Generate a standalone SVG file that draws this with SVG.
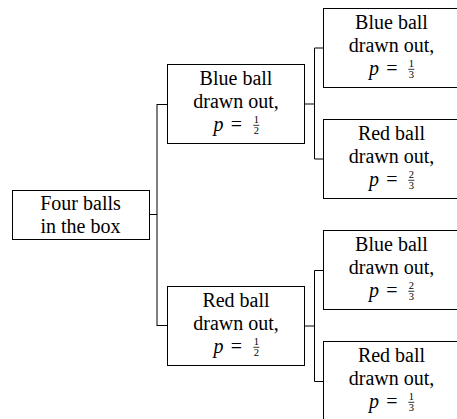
<svg xmlns="http://www.w3.org/2000/svg" width="457" height="419" viewBox="0 0 457 419">
<style>
  .box { fill: #fff; stroke: #000; stroke-width: 1; }
  .t { font-family: "Liberation Serif", "Times New Roman", serif; font-size: 20px; fill: #000; text-anchor: middle; }
  .it { font-style: italic; }
  .fr { font-family: "Liberation Serif", "Times New Roman", serif; font-size: 10.5px; fill: #000; text-anchor: middle; }
  .bar { stroke: #000; stroke-width: 0.8; }
  .edge { fill: none; stroke: #000; stroke-width: 1; }
</style>
<rect width="457" height="419" fill="#fff"/>
<g id="connectors">
  <path class="edge" d="M149.5 214.5 H157 M157 104 V326"/>
  <path class="edge" d="M157 104.5 H167.5 M157 325.5 H167.5"/>
  <path class="edge" d="M304.5 104 H314.5 M314.5 48 V159 M314.5 48 H323.5 M314.5 159 H323.5"/>
  <path class="edge" d="M304.5 326 H314.5 M314.5 270.5 V381.5 M314.5 270.5 H323.5 M314.5 381.5 H323.5"/>
</g>
<g id="root">
  <rect class="box" x="12.5" y="190.5" width="137" height="49"/>
  <text class="t" x="80.5" y="209.5">Four balls</text>
  <text class="t" x="80.5" y="232.5">in the box</text>
</g>
<g id="blue1">
  <rect class="box" x="167.5" y="64.5" width="137" height="79"/>
  <text class="t" x="236" y="85">Blue ball</text>
  <text class="t" x="236" y="108">drawn out,</text>
  <text class="t it" x="218.5" y="131">p</text>
  <text class="t" x="236.5" y="131">=</text>
  <text class="fr" x="256.3" y="123.3">1</text>
  <line class="bar" x1="253.3" y1="125.3" x2="259.3" y2="125.3"/>
  <text class="fr" x="256.3" y="134">2</text>
</g>
<g id="red1">
  <rect class="box" x="167.5" y="286.5" width="137" height="79"/>
  <text class="t" x="236" y="307">Red ball</text>
  <text class="t" x="236" y="330">drawn out,</text>
  <text class="t it" x="218.5" y="353">p</text>
  <text class="t" x="236.5" y="353">=</text>
  <text class="fr" x="256.3" y="345.3">1</text>
  <line class="bar" x1="253.3" y1="347.3" x2="259.3" y2="347.3"/>
  <text class="fr" x="256.3" y="356">2</text>
</g>
<g id="blue1blue2">
  <rect class="box" x="323.5" y="8.5" width="137" height="79"/>
  <text class="t" x="391.5" y="29">Blue ball</text>
  <text class="t" x="391.5" y="52">drawn out,</text>
  <text class="t it" x="374" y="75">p</text>
  <text class="t" x="392" y="75">=</text>
  <text class="fr" x="411.3" y="67.3">1</text>
  <line class="bar" x1="408.3" y1="69.3" x2="414.3" y2="69.3"/>
  <text class="fr" x="411.3" y="78">3</text>
</g>
<g id="blue1red2">
  <rect class="box" x="323.5" y="119.5" width="137" height="79"/>
  <text class="t" x="391.5" y="140">Red ball</text>
  <text class="t" x="391.5" y="163">drawn out,</text>
  <text class="t it" x="374" y="186">p</text>
  <text class="t" x="392" y="186">=</text>
  <text class="fr" x="411.3" y="178.3">2</text>
  <line class="bar" x1="408.3" y1="180.3" x2="414.3" y2="180.3"/>
  <text class="fr" x="411.3" y="189">3</text>
</g>
<g id="red1blue2">
  <rect class="box" x="323.5" y="230.5" width="137" height="79"/>
  <text class="t" x="391.5" y="251">Blue ball</text>
  <text class="t" x="391.5" y="274">drawn out,</text>
  <text class="t it" x="374" y="297">p</text>
  <text class="t" x="392" y="297">=</text>
  <text class="fr" x="411.3" y="289.3">2</text>
  <line class="bar" x1="408.3" y1="291.3" x2="414.3" y2="291.3"/>
  <text class="fr" x="411.3" y="300">3</text>
</g>
<g id="red1red2">
  <rect class="box" x="323.5" y="341.5" width="137" height="79"/>
  <text class="t" x="391.5" y="362">Red ball</text>
  <text class="t" x="391.5" y="385">drawn out,</text>
  <text class="t it" x="374" y="408">p</text>
  <text class="t" x="392" y="408">=</text>
  <text class="fr" x="411.3" y="400.3">1</text>
  <line class="bar" x1="408.3" y1="402.3" x2="414.3" y2="402.3"/>
  <text class="fr" x="411.3" y="411">3</text>
</g>
</svg>
